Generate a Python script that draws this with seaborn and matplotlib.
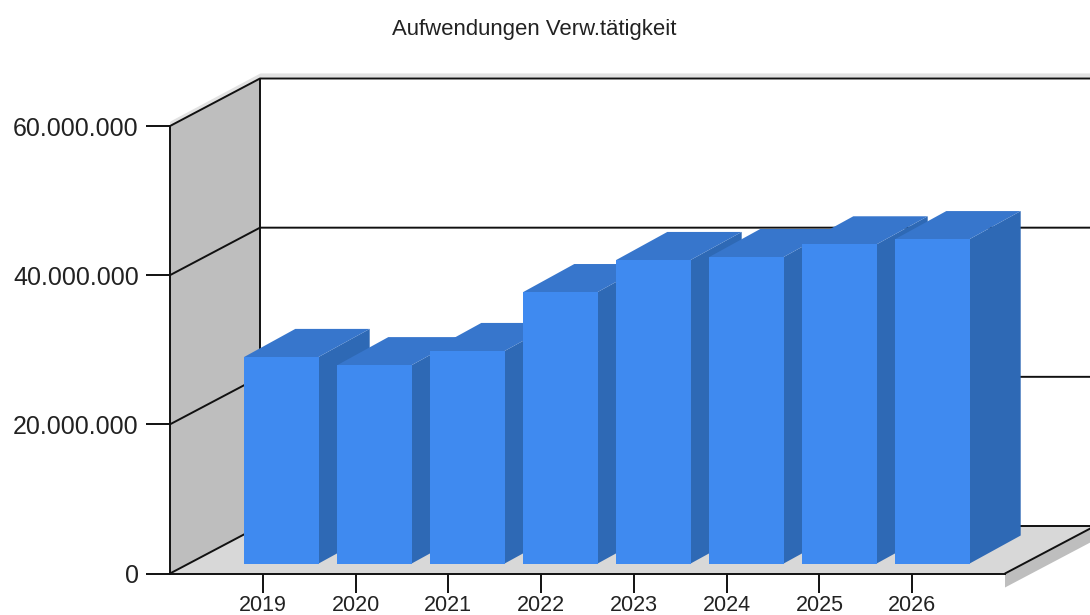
import matplotlib
matplotlib.use("Agg")
import matplotlib.pyplot as plt
from matplotlib.patches import Polygon
from matplotlib.transforms import IdentityTransform
import pandas as pd
import seaborn as sns

jahre = ["2019", "2020", "2021", "2022", "2023", "2024", "2025", "2026"]
werte = [27700000, 26600000, 28500000, 36400000, 40700000, 41100000, 42800000, 43500000]
y_ticks = [0, 20000000, 40000000, 60000000]
y_labels = ["0", "20.000.000", "40.000.000", "60.000.000"]
titel = "Aufwendungen Verw.tätigkeit"

B, H = 1090, 615
TIEFE_X, TIEFE_Y = 90, 47.5    # Tiefe der Rueckwand in Pixeln
BAR_X, BAR_Y = 51, 28          # Tiefe der Balken
OFF_X, OFF_Y = 18.5, 10        # Balken stehen etwas hinter der Vorderkante

sns.set_theme(style="ticks")
plt.rcParams["font.family"] = ["Liberation Sans", "DejaVu Sans"]

df = pd.DataFrame({"jahr": jahre, "wert": werte})

fig = plt.figure(figsize=(B / 100, H / 100), dpi=100, facecolor="white")
pos = [170 / B, (H - 573.5) / H, 835 / B, 447.5 / H]
ax = fig.add_axes(pos)
ax.patch.set_visible(False)
ax.set_xlim(-1, 8)
ax.set_ylim(0, 60000000)
ax.set_xticks(range(len(jahre)))
ax.set_xticklabels(jahre)
ax.set_yticks(y_ticks)
ax.set_yticklabels(y_labels)
ax.tick_params(axis="y", length=17, width=1.4, color="#111111", labelsize=18, pad=5.5, labelcolor="#222222")
ax.tick_params(axis="x", length=13.5, width=1.4, color="#111111", labelsize=15.5, pad=2, labelcolor="#222222")
for s in ["top", "right"]:
    ax.spines[s].set_visible(False)
for s in ["left", "bottom"]:
    ax.spines[s].set_linewidth(1.4)
    ax.spines[s].set_color("#111111")
    ax.spines[s].set_zorder(6)


def poly(achse, punkte, farbe, z):
    achse.add_patch(Polygon(punkte, closed=True, facecolor=farbe, edgecolor="none",
                            transform=IdentityTransform(), clip_on=False, zorder=z))


def linie(punkte, farbe="#111111", lw=1.4, z=5):
    xs = [p[0] for p in punkte]
    ys = [p[1] for p in punkte]
    ax.plot(xs, ys, color=farbe, lw=lw, transform=IdentityTransform(), clip_on=False, zorder=z)


# Pixelpositionen aus den Achsen holen
x0, y0 = ax.transData.transform((-1, 0))
x1, _ = ax.transData.transform((8, 0))
_, y_top = ax.transData.transform((-1, y_ticks[-1]))

# Rueckwand links
poly(ax, [(x0, y0), (x0 + TIEFE_X, y0 + TIEFE_Y), (x0 + TIEFE_X, y_top + TIEFE_Y), (x0, y_top)], "#BEBEBE", 1)
# Boden und Schatten
poly(ax, [(x1, y0 - 14), (x1 + TIEFE_X, y0 + TIEFE_Y - 14), (x1 + TIEFE_X, y0 + TIEFE_Y), (x1, y0)], "#BEBEBE", 1)
poly(ax, [(x0, y0), (x1, y0), (x1 + TIEFE_X, y0 + TIEFE_Y), (x0 + TIEFE_X, y0 + TIEFE_Y)], "#D8D8D8", 1.5)

# heller Schatten oben
linie([(x0 + 2, y_top + 3), (x0 + TIEFE_X + 1, y_top + TIEFE_Y + 3), (x1 + TIEFE_X, y_top + TIEFE_Y + 3)], "#E2E2E2", 3, 2)

# Gitterlinien: schraeg ueber die Wand, dann waagerecht hinten
for t in y_ticks:
    _, yt = ax.transData.transform((-1, t))
    linie([(x0, yt), (x0 + TIEFE_X, yt + TIEFE_Y), (x1 + TIEFE_X, yt + TIEFE_Y)])
linie([(x0 + TIEFE_X, y0 + TIEFE_Y), (x0 + TIEFE_X, y_top + TIEFE_Y)])
linie([(x1, y0), (x1 + TIEFE_X, y0 + TIEFE_Y)])

# Balken auf eigener Achse, leicht nach hinten versetzt
pos_bars = [(170 + OFF_X) / B, (H - 573.5 + OFF_Y) / H, 837 / B, 447.5 / H]
ax_bars = fig.add_axes(pos_bars)
sns.barplot(data=df, x="jahr", y="wert", ax=ax_bars, color="#3F8AF0", saturation=1, width=0.8, linewidth=0)
ax_bars.set_xlim(-1, 8)
ax_bars.set_ylim(0, 60000000)
ax_bars.axis("off")
ax_bars.patch.set_visible(False)

# Seiten und Deckel aus den echten Balken ableiten, 1 Pixel unter die Front gegen Naehte
for i, bar in enumerate(ax_bars.patches):
    (l, u) = ax_bars.transData.transform((bar.get_x(), 0))
    (r, o) = ax_bars.transData.transform((bar.get_x() + bar.get_width(), bar.get_height()))
    z = 3 + i * 2
    poly(ax_bars, [(r - 1, u), (r, u), (r + BAR_X, u + BAR_Y), (r + BAR_X, o + BAR_Y), (r, o), (r - 1, o)], "#2E69B5", z)
    poly(ax_bars, [(l, o - 1), (r, o - 1), (r, o), (r + BAR_X, o + BAR_Y), (l + BAR_X, o + BAR_Y), (l, o)], "#3776CC", z)
    bar.set_zorder(z + 1)
    bar.set_clip_on(False)

fig.text(534 / B, (H - 30) / H, titel, ha="center", va="center", fontsize=15.9, color="#222222")

fig.savefig("out.png", dpi=100)
